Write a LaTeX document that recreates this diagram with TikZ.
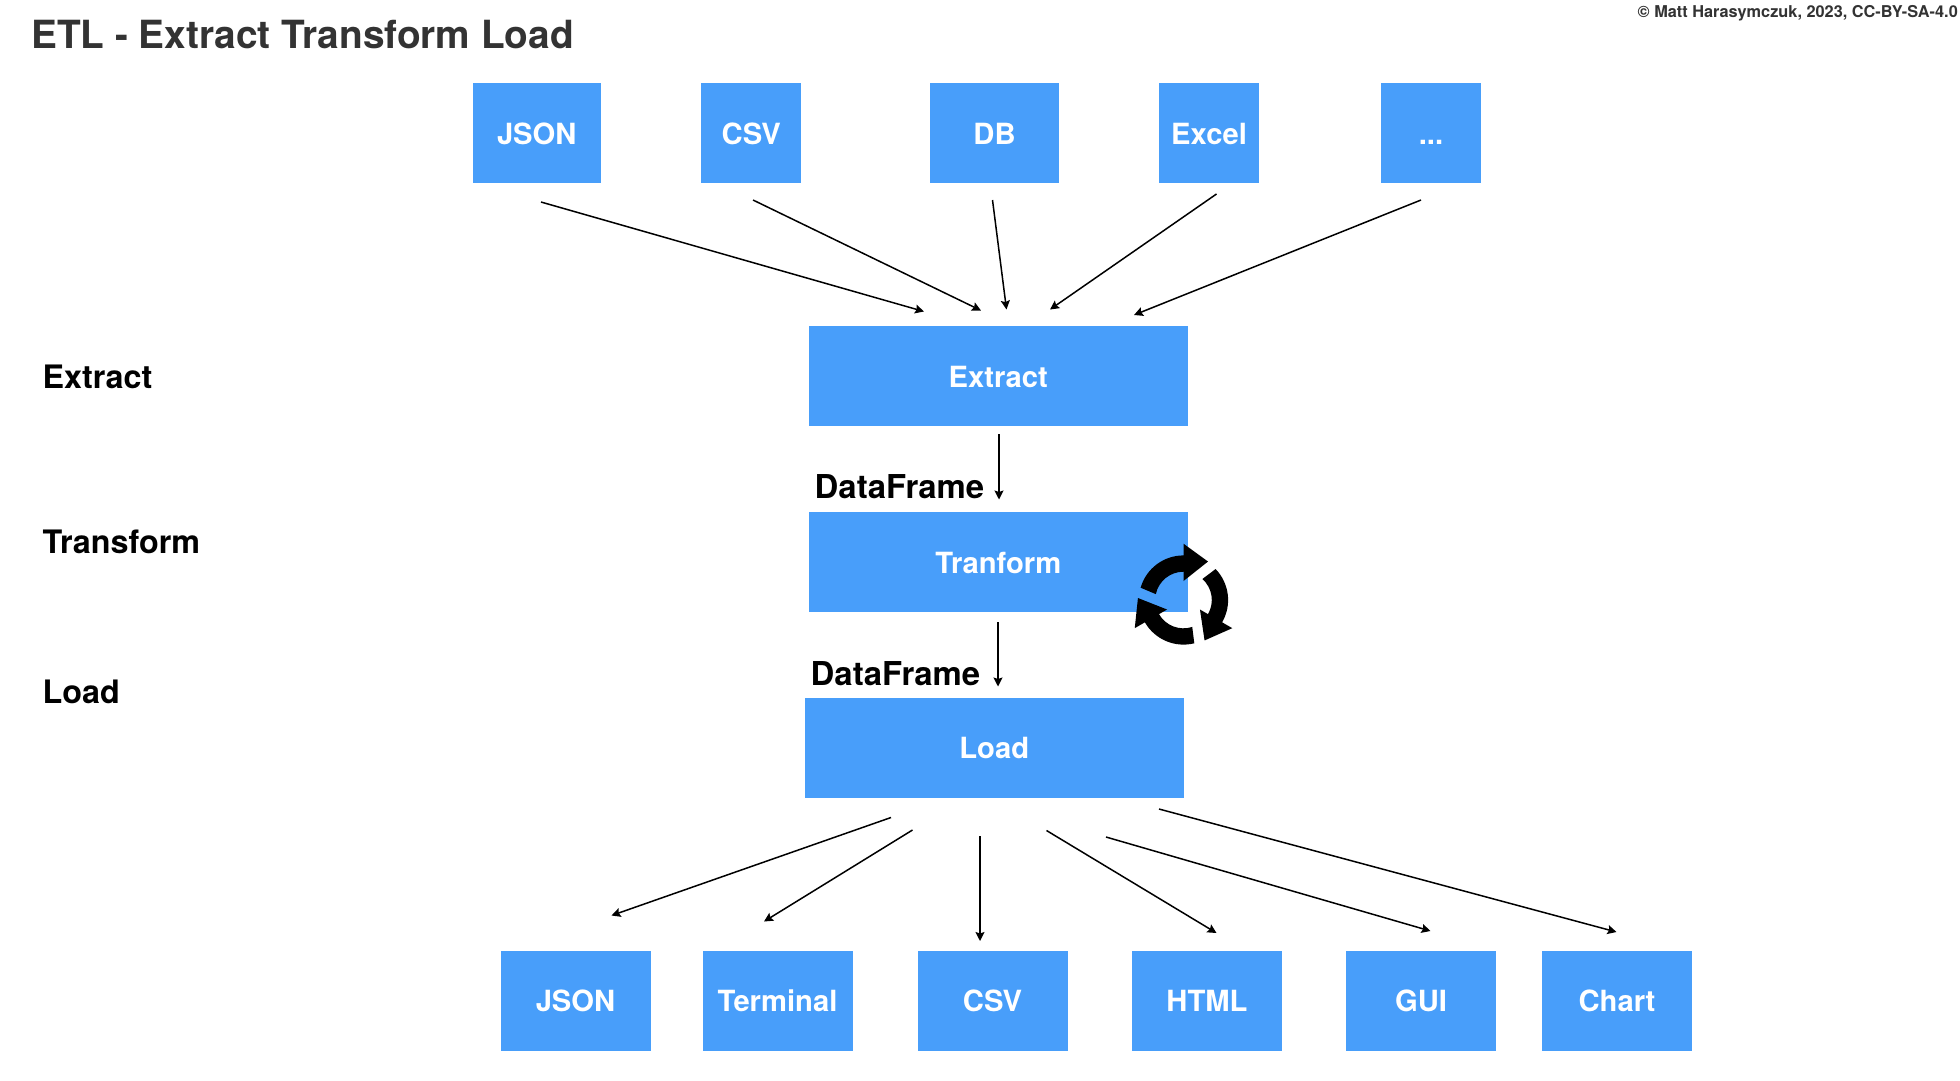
\documentclass[tikz,border=0pt]{standalone}
\usepackage{fontspec}
\setmainfont{TeX Gyre Heros}
\usetikzlibrary{arrows.meta}
\definecolor{boxblue}{RGB}{72,158,250}
\definecolor{titlegray}{RGB}{51,51,51}
\tikzset{
  x=1pt,y=-1pt,
  bx/.style={fill=boxblue,draw=none,inner sep=0pt,text=white,align=center,
    font=\bfseries\fontsize{29.2}{34}\selectfont,text height=22.5pt,text depth=0pt},
  sidelabel/.style={anchor=west,inner sep=0pt,font=\bfseries\fontsize{32.3}{36}\selectfont,text height=22pt,text depth=0pt},
  dflabel/.style={anchor=center,inner sep=0pt,font=\bfseries\fontsize{32.9}{38}\selectfont,text height=23pt,text depth=0pt},
  conn/.style={draw=black,line width=1.5pt,-{Stealth[length=9pt,width=9pt,inset=1.5pt]}},
}
\begin{document}
\begin{tikzpicture}
\useasboundingbox (0,0) rectangle (1960,1080);
\fill[white] (0,0) rectangle (1960,1080);
% title and credit
\node[anchor=west,inner sep=0pt,text=titlegray,font=\bfseries\fontsize{38.8}{44}\selectfont] (title) at (31,34.5) {ETL - Extract Transform Load};
\node[anchor=east,inner sep=0pt,text=titlegray,font=\bfseries\fontsize{16.3}{20}\selectfont] (credit) at (1958,13) {© Matt Harasymczuk, 2023, CC-BY-SA-4.0};
% sources
\node[bx,minimum width=128.5pt,minimum height=100pt] (s1) at (536.75,133) {JSON};
\node[bx,minimum width=100pt,minimum height=100pt] (s2) at (751.25,133) {CSV};
\node[bx,minimum width=128.5pt,minimum height=100pt] (s3) at (994.5,133) {DB};
\node[bx,minimum width=100pt,minimum height=100pt] (s4) at (1209,133) {Excel};
\node[bx,minimum width=100pt,minimum height=100pt] (s5) at (1431,133) {...};
% stages
\node[bx,minimum width=378.5pt,minimum height=100pt] (ext) at (998.25,376.25) {Extract};
\node[bx,minimum width=378.5pt,minimum height=100pt] (tra) at (998.25,562) {Tranform};
\node[bx,minimum width=378.5pt,minimum height=100pt] (loa) at (994.25,747.5) {Load};
% sinks
\node[bx,minimum width=150pt,minimum height=100pt] (d1) at (575.5,1000.5) {JSON};
\node[bx,minimum width=150pt,minimum height=100pt] (d2) at (777.5,1000.5) {Terminal};
\node[bx,minimum width=150pt,minimum height=100pt] (d3) at (992.5,1000.5) {CSV};
\node[bx,minimum width=150pt,minimum height=100pt] (d4) at (1207,1000.5) {HTML};
\node[bx,minimum width=150pt,minimum height=100pt] (d5) at (1421,1000.5) {GUI};
\node[bx,minimum width=150pt,minimum height=100pt] (d6) at (1617,1000.5) {Chart};
% side labels
\node[sidelabel] (lx) at (42.5,377.5) {Extract};
\node[sidelabel] (lt) at (42.5,542) {Transform};
\node[sidelabel] (ll) at (42.5,692) {Load};
\node[dflabel] (df1) at (899.5,486.5) {DataFrame};
\node[dflabel] (df2) at (895.5,673.5) {DataFrame};
% connector ends
\coordinate (a1) at (541,202);   \coordinate (b1) at (924,311.5);
\coordinate (a2) at (753,200);   \coordinate (b2) at (981,310.5);
\coordinate (a3) at (992.5,200); \coordinate (b3) at (1006.5,309.5);
\coordinate (a4) at (1216.5,194);\coordinate (b4) at (1050,309.5);
\coordinate (a5) at (1421,200);  \coordinate (b5) at (1134,315);
\coordinate (a6) at (999,434);   \coordinate (b6) at (999,499.5);
\coordinate (a7) at (998,622);   \coordinate (b7) at (998,686.5);
\coordinate (a8) at (891,817.5); \coordinate (b8) at (611.5,915.5);
\coordinate (a9) at (912.5,830); \coordinate (b9) at (764,921.5);
\coordinate (a10) at (980,836);  \coordinate (b10) at (980,941);
\coordinate (a11) at (1046.5,830.5); \coordinate (b11) at (1216.5,933);
\coordinate (a12) at (1106,837); \coordinate (b12) at (1430.5,931);
\coordinate (a13) at (1159,809); \coordinate (b13) at (1616.5,932);
\foreach \i in {1,...,13} \draw[conn] (a\i) -- (b\i);
% cycle icon
\foreach \a in {0,120,240}{
  \begin{scope}[shift={(1183.5,600)},x=1pt,y=1pt,rotate=\a]
    \fill[black] (164:44.6) arc[start angle=164,end angle=90,radius=44.6pt]
      -- (90:56.3) -- (57.5:45.6) -- (90:19) -- (90:28.3)
      arc[start angle=90,end angle=168,radius=28.3pt] -- cycle;
  \end{scope}
}
\end{tikzpicture}
\end{document}
